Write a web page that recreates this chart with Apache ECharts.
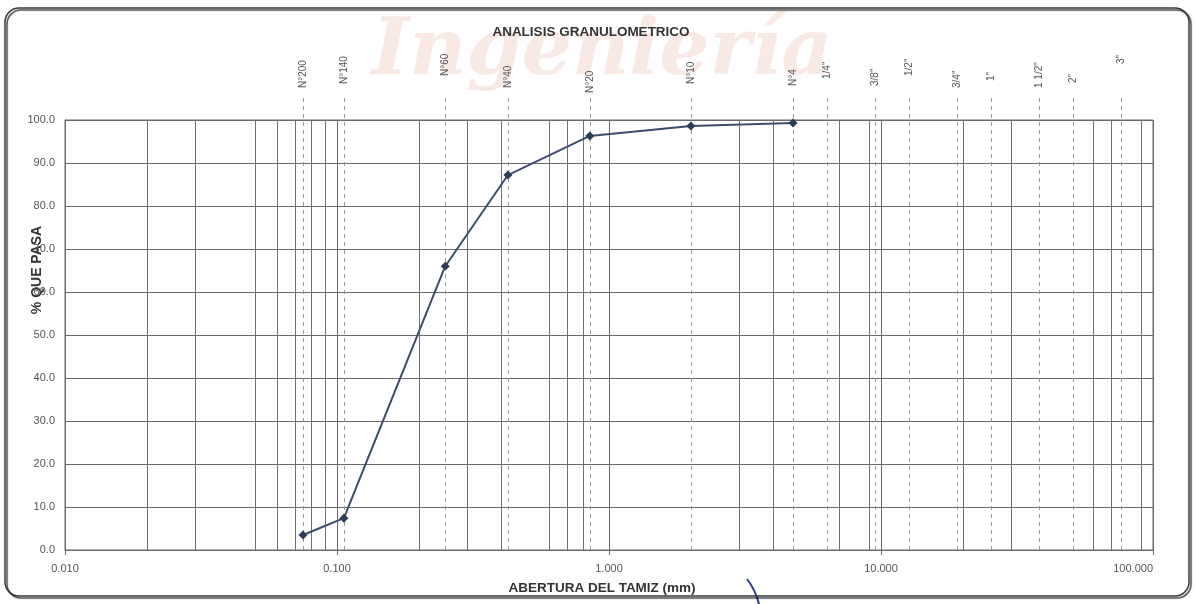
<!DOCTYPE html>
<html>
<head>
<meta charset="utf-8">
<script src="https://cdn.jsdelivr.net/npm/echarts@6/dist/echarts.min.js"></script>
<style>
  html, body { margin: 0; padding: 0; background: #ffffff; }
  #chart { width: 1196px; height: 604px; }
</style>
</head>
<body>
<div id="chart"></div>
<script>
// Sieve series (ASTM) and their openings in mm
const sieveNames = ['N°200', 'N°140', 'N°60', 'N°40', 'N°20', 'N°10', 'N°4', '1/4"', '3/8"', '1/2"', '3/4"', '1"', '1 1/2"', '2"', '3"'];
const sieveSizes = [0.075, 0.106, 0.25, 0.425, 0.85, 2.0, 4.75, 6.35, 9.525, 12.7, 19.05, 25.4, 38.1, 50.8, 76.2];

// Percent passing for the sieves that were used (N°200 .. N°4)
const passing = [3.5, 7.4, 66.0, 87.2, 96.3, 98.6, 99.3];

// Extra vertical rulings inside each decade of the log scale
const minorGrid = [0.02, 0.03, 0.05, 0.06, 0.07, 0.08, 0.09,
                   0.2, 0.3, 0.4, 0.6, 0.7, 0.8,
                   3, 4, 7, 9,
                   20, 30, 60, 70, 90];

// Axis ranges
const xRange = [0.01, 100];
const yRange = [0, 100];
const yStep = 10;

// Where each sieve caption ends (pixel row of its lower end)
const captionBottom = [88, 84, 76, 88, 93, 84, 86, 79, 86, 76, 88, 81, 88, 83, 64];

const FONT = '"Liberation Sans", Arial, sans-serif';

const chart = echarts.init(document.getElementById('chart'), null, { renderer: 'canvas' });

const curve = passing.map((p, i) => [sieveSizes[i], p]);

chart.setOption({
  animation: false,
  backgroundColor: '#ffffff',
  grid: {
    left: 65, right: 43, top: 120, bottom: 54,
    show: true, borderColor: '#6a6a6a', borderWidth: 1
  },
  xAxis: {
    type: 'log',
    logBase: 10,
    min: xRange[0],
    max: xRange[1],
    axisLine: { show: true, lineStyle: { color: '#6a6a6a' } },
    axisTick: { show: true, length: 5, lineStyle: { color: '#6a6a6a' } },
    axisLabel: {
      fontFamily: FONT, fontSize: 11, color: '#555', margin: 13,
      alignMaxLabel: 'right',
      formatter: v => Number(v).toFixed(3)
    },
    splitLine: { show: true, lineStyle: { color: '#6a6a6a', width: 1 } }
  },
  yAxis: {
    type: 'value',
    min: yRange[0],
    max: yRange[1],
    interval: yStep,
    axisLine: { show: true, lineStyle: { color: '#6a6a6a' } },
    axisTick: { show: false },
    axisLabel: {
      fontFamily: FONT, fontSize: 11, color: '#555', margin: 10,
      formatter: v => Number(v).toFixed(1)
    },
    splitLine: { show: true, lineStyle: { color: '#6a6a6a', width: 1 } }
  },
  graphic: [
    {
      // faint letterhead watermark
      type: 'text', z: -10, silent: true,
      left: 372, top: 14,
      style: {
        text: 'Ingeniería',
        font: 'italic bold 79px "DejaVu Serif", serif',
        fill: 'rgba(214, 118, 96, 0.16)'
      }
    },
    {
      // rounded frame around the sheet
      type: 'rect', z: 100, silent: true,
      shape: { x: 5, y: 8, width: 1184, height: 588, r: 14 },
      style: {
        fill: 'none', stroke: '#3a3a3a', lineWidth: 1.5,
        shadowColor: 'rgba(0,0,0,0.75)', shadowBlur: 1, shadowOffsetX: 2, shadowOffsetY: 2
      }
    },
    {
      type: 'text', silent: true,
      x: 591, y: 32,
      style: {
        text: 'ANALISIS GRANULOMETRICO', font: 'bold 13.5px ' + FONT, fill: '#333',
        align: 'center', verticalAlign: 'middle'
      }
    },
    {
      type: 'text', silent: true,
      x: 602, y: 588,
      style: {
        text: 'ABERTURA DEL TAMIZ (mm)', font: 'bold 13.5px ' + FONT, fill: '#333',
        align: 'center', verticalAlign: 'middle'
      }
    },
    {
      type: 'text', silent: true,
      x: 37, y: 270, rotation: Math.PI / 2,
      style: {
        text: '% QUE PASA', font: 'bold 14px ' + FONT, fill: '#333',
        align: 'center', verticalAlign: 'middle'
      }
    },
    {
      // pen stroke on the sheet
      type: 'bezierCurve', silent: true, z: 90,
      shape: { x1: 747, y1: 579, x2: 759, y2: 604, cpx1: 754, cpy1: 588, cpx2: 757, cpy2: 596 },
      style: { stroke: '#2c3c8c', lineWidth: 2, fill: 'none' }
    }
  ],
  series: [
    {
      // minor decade rulings
      type: 'custom',
      z: 1,
      silent: true,
      clip: false,
      data: minorGrid.map(v => [v, 0]),
      encode: { x: 0, y: 1 },
      renderItem: (params, api) => {
        const cs = params.coordSys;
        const x = Math.round(api.coord([api.value(0), 0])[0]) + 0.5;
        return {
          type: 'line',
          shape: { x1: x, y1: cs.y, x2: x, y2: cs.y + cs.height },
          style: { stroke: '#707070', lineWidth: 1 }
        };
      }
    },
    {
      // sieve reference lines with their captions
      type: 'custom',
      z: 2,
      silent: true,
      clip: false,
      data: sieveSizes.map((s, i) => [s, 0, i]),
      encode: { x: 0, y: 1 },
      renderItem: (params, api) => {
        const cs = params.coordSys;
        const idx = api.value(2);
        const x = Math.round(api.coord([api.value(0), 0])[0]) + 0.5;
        return {
          type: 'group',
          children: [
            {
              type: 'line',
              shape: { x1: x, y1: cs.y - 22, x2: x, y2: cs.y + cs.height },
              style: { stroke: '#9a9a9a', lineWidth: 1, lineDash: [4, 4] }
            },
            {
              type: 'text',
              x: x, y: captionBottom[idx], rotation: Math.PI / 2,
              style: {
                text: sieveNames[idx],
                font: '10px ' + FONT, fill: '#555',
                align: 'left', verticalAlign: 'middle'
              }
            }
          ]
        };
      }
    },
    {
      name: '% que pasa',
      type: 'line',
      z: 5,
      data: curve,
      symbol: 'diamond',
      symbolSize: 9,
      lineStyle: { color: '#3b4d6b', width: 2 },
      itemStyle: { color: '#2d3c57' }
    }
  ]
});
</script>
</body>
</html>
